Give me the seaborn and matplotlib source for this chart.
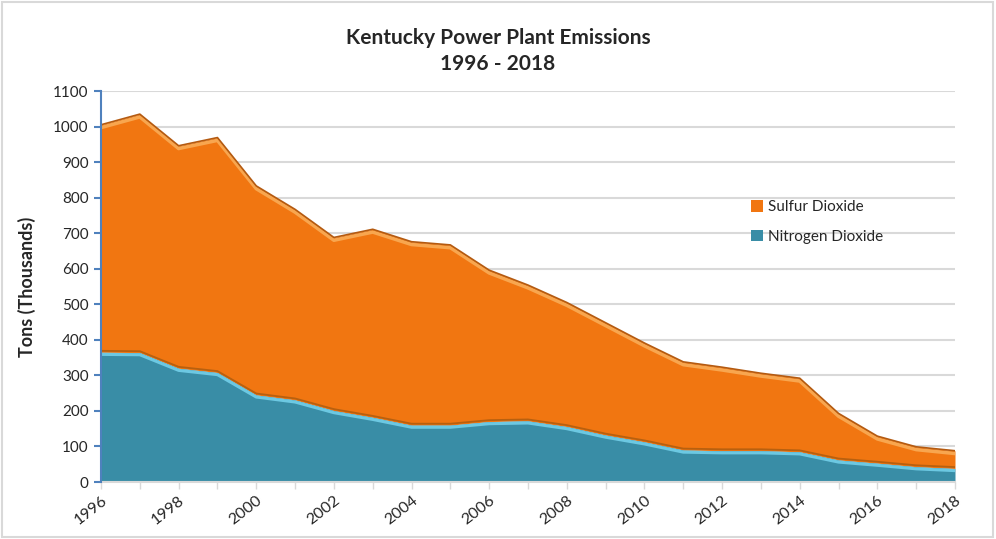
import numpy as np
import pandas as pd
import matplotlib
matplotlib.use("Agg")
import matplotlib.pyplot as plt
import seaborn as sns
from matplotlib.patches import Rectangle

# data (thousand tons)
years = list(range(1996, 2019))
nitrogen = [365, 364, 320, 308, 245, 231, 201, 182, 160, 160, 170, 172,
            156, 132, 113, 90, 88, 88, 85, 62, 53, 43, 38]
total = [1005, 1035, 946, 969, 833, 767, 688, 711, 676, 667, 596, 554,
         505, 448, 391, 338, 323, 306, 292, 193, 129, 99, 88]
sulfur = [t - n for t, n in zip(total, nitrogen)]

df = pd.DataFrame({"year": years, "Nitrogen Dioxide": nitrogen,
                   "Sulfur Dioxide": sulfur})
df["top"] = df["Nitrogen Dioxide"] + df["Sulfur Dioxide"]

sns.set_style("white")
plt.rcParams["font.family"] = ["Lato", "DejaVu Sans"]

orange = "#F17611"
teal = "#398DA6"

fig = plt.figure(figsize=(9.96, 5.39), dpi=100)
ax = fig.add_axes([101 / 996, 57 / 539, 854 / 996, 391 / 539])

ax.fill_between(df["year"], df["Nitrogen Dioxide"], df["top"], color=orange,
                lw=0, label="Sulfur Dioxide", zorder=2)
ax.fill_between(df["year"], 0, df["Nitrogen Dioxide"], color=teal, lw=0,
                label="Nitrogen Dioxide", zorder=2)

# bevel-ish edges
sns.lineplot(x=df["year"], y=df["top"] - 8, ax=ax, color="#F8A64F", lw=2.5, zorder=3)
sns.lineplot(x=df["year"], y=df["top"], ax=ax, color="#B45A10", lw=1.2, zorder=4)
sns.lineplot(x=df["year"], y=df["Nitrogen Dioxide"] - 6, ax=ax, color="#6CC8E2",
             lw=2.2, zorder=3)
sns.lineplot(x=df["year"], y=df["Nitrogen Dioxide"] + 4, ax=ax, color="#B8600F",
             lw=1.3, zorder=4)

ax.set_xlim(1996, 2018)
ax.set_ylim(0, 1100)
ax.set_yticks(range(0, 1101, 100))
ax.set_xticks(range(1996, 2019, 2))
ax.set_xticks(range(1996, 2019), minor=True)
ax.yaxis.grid(True, color="#D9D9D9", lw=1.5)
ax.set_axisbelow(True)

for s in ["top", "right"]:
    ax.spines[s].set_visible(False)
ax.spines["left"].set_color("#4F81BD")
ax.spines["left"].set_linewidth(1.5)
ax.spines["left"].set_zorder(5)
ax.spines["bottom"].set_color("#D9D9D9")
ax.spines["bottom"].set_linewidth(1.5)

ax.tick_params(axis="y", length=5, width=1.5, color="#4F81BD",
               labelsize=11, left=True, pad=4)
ax.tick_params(axis="x", which="both", length=5, width=1, color="#D9D9D9",
               labelsize=11.5, bottom=True, pad=3)
plt.setp(ax.get_xticklabels(), rotation=38, ha="right", rotation_mode="anchor")

ax.set_xlabel("")
ax.set_ylabel("Tons (Thousands)", fontsize=13, fontweight="bold", labelpad=12)

fig.text(0.5, 0.905, "Kentucky Power Plant Emissions\n1996 - 2018",
         ha="center", va="center", fontsize=15, fontweight="bold",
         linespacing=1.4)

handles, labels = ax.get_legend_handles_labels()
leg = ax.legend(handles, labels, loc="center left",
                bbox_to_anchor=(0.745, 0.665), frameon=False, fontsize=11,
                handlelength=0.8, handleheight=0.8, handletextpad=0.3,
                labelspacing=1.0)

fig.patches.append(Rectangle((0.002, 0.003), 0.995, 0.993, transform=fig.transFigure,
                             fill=False, edgecolor="#D9D9D9", lw=1.5))

fig.savefig("out.png", dpi=100)
